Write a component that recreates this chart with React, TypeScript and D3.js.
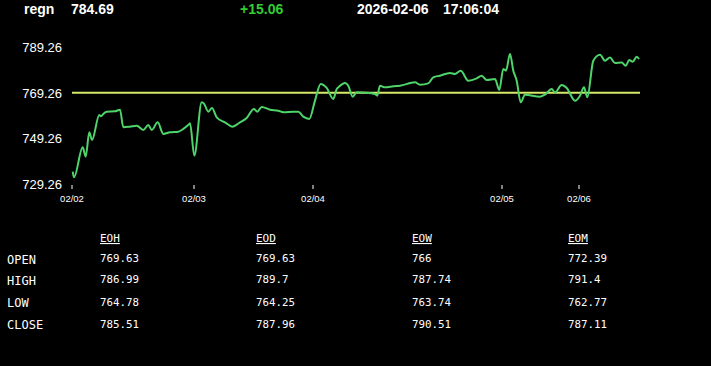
import React from "react";
import * as d3 from "d3";

const symbol = "regn";
const lastPrice = "784.69";
const change = "+15.06";
const dateStr = "2026-02-06";
const timeStr = "17:06:04";

const refLevel = 769.26;
const yTicks = [729.26, 749.26, 769.26, 789.26];
const xTickPos = [0, 122, 241, 430, 507];
const xTickLabels = ["02/02", "02/03", "02/04", "02/05", "02/06"];

const pointPos = [
  0.7, 2, 10.7, 13.7, 17.3, 20, 27.3, 29, 31.3, 34.7, 43, 48, 51.3, 58, 64.7, 71.3, 76.3, 79.7, 85.7, 91.3,
  98, 106.3, 111.3, 117.3, 118, 122.3, 129.7, 132, 136.3, 140, 144.7, 153, 160.3, 168, 174.7, 182, 185.3, 189.7, 198, 206.3,
  211.3, 221.3, 226.3, 231.3, 237.3, 243, 248.7, 254.7, 261.3, 264.7, 266.3, 273, 276.3, 280.7, 284.7, 294.7, 303, 305.3, 308, 313,
  321.3, 328, 343, 348, 356.3, 361.3, 368, 378, 383, 388.7, 396.3, 404.7, 409.7, 414.7, 423, 427.3, 431.3, 434, 438, 441.3,
  444.7, 448.7, 453, 468, 473, 479.7, 483, 489.7, 494.7, 503, 508, 512, 515.3, 521.3, 528, 533, 538, 543, 549.7, 553.7,
  557.3, 560.7, 564.7, 567,
];
const prices = [
  734.69, 732.19, 745.32, 741.26, 751.89, 748.56, 759.5, 758.89, 759.94, 760.95, 761.08, 761.82, 754.08, 754.38, 754.82, 752.94, 755.13, 752.94, 756.26, 751.19,
  751.89, 752.19, 753.38, 755.56, 755.82, 741.69, 765.02, 764.45, 760.95, 762.56, 758.45, 756.26, 754.38, 756.26, 758.19, 762.13, 760.95, 763.0, 761.82, 761.38,
  760.64, 760.95, 760.95, 758.76, 757.75, 765.76, 773.07, 771.32, 766.5, 770.88, 771.58, 773.5, 772.32, 767.51, 769.39, 769.26, 768.69, 767.95, 772.32, 771.58,
  772.02, 772.32, 773.77, 772.76, 773.33, 775.96, 776.7, 777.88, 777.44, 778.89, 774.51, 775.52, 776.7, 774.82, 775.26, 770.44, 779.63, 778.89, 786.2, 778.89,
  774.51, 765.02, 768.38, 767.51, 768.38, 770.88, 769.39, 772.63, 771.32, 765.76, 767.95, 771.58, 767.2, 783.26, 785.89, 783.26, 784.71, 782.26, 782.52, 781.08,
  783.57, 782.83, 785.01, 784.01,
];

const tableCols = ["EOH", "EOD", "EOW", "EOM"];
const tableRows = ["OPEN", "HIGH", "LOW", "CLOSE"];
const eohVals = ["769.63", "786.99", "764.78", "785.51"];
const eodVals = ["769.63", "789.7", "764.25", "787.96"];
const eowVals = ["766", "787.74", "763.74", "790.51"];
const eomVals = ["772.39", "791.4", "762.77", "787.11"];

export default function App() {
  const W = 711;
  const H = 366;
  const x = d3.scaleLinear().domain([0, 568]).range([72, 640]);
  const y = d3.scaleLinear().domain([729.26, 789.26]).range([184, 47]);
  const data = pointPos.map((p, i) => [p, prices[i]] as [number, number]);
  const line = d3
    .line<[number, number]>()
    .x((d) => x(d[0]))
    .y((d) => y(d[1]))
    .curve(d3.curveMonotoneX);
  const colVals = [eohVals, eodVals, eowVals, eomVals];
  const colX = [100, 256, 412, 568];
  const labelY = [264.3, 285, 307, 329];
  const valueY = [262.2, 283.2, 305.9, 327.9];
  const sans = "Arial, 'Liberation Sans', sans-serif";
  const mono = "'DejaVu Sans Mono', 'Liberation Mono', monospace";
  return (
    <svg
      width={W}
      height={H}
      style={{ position: "absolute", left: 0, top: 0, background: "#000", display: "block" }}
    >
      <rect x={0} y={0} width={W} height={H} fill="#000" />
      <g fontFamily={sans} fontWeight="bold" fontSize={14}>
        <text x={24} y={14} fill="#fff">{symbol}</text>
        <text x={71} y={14} fill="#fff">{lastPrice}</text>
        <text x={240} y={14} fill="#33cc33">{change}</text>
        <text x={357} y={14} fill="#fff">{dateStr}</text>
        <text x={443} y={14} fill="#fff">{timeStr}</text>
      </g>
      <g fontFamily={sans} fontSize={13} fill="#fff">
        {yTicks.map((t) => (
          <text key={t} x={62} y={y(t) + 5} textAnchor="end">
            {t.toFixed(2)}
          </text>
        ))}
      </g>
      <g>
        {xTickPos.map((p, i) => (
          <g key={i}>
            <line x1={x(p)} x2={x(p)} y1={185} y2={189} stroke="#fff" strokeWidth={1} />
            <text
              x={x(p)}
              y={202}
              textAnchor="middle"
              fontFamily={sans}
              fontSize={9.5}
              fill="#fff"
            >
              {xTickLabels[i]}
            </text>
          </g>
        ))}
      </g>
      <line x1={x(0)} x2={x(568)} y1={y(refLevel)} y2={y(refLevel)} stroke="#d6e96a" strokeWidth={2} />
      <path d={line(data) || ""} fill="none" stroke="#4ed46a" strokeWidth={2} strokeLinejoin="round" />
      <g fontFamily={mono} fill="#fff">
        {tableCols.map((c, i) => (
          <text key={c} x={colX[i]} y={242} fontSize={11} textDecoration="underline">
            {c}
          </text>
        ))}
        {tableRows.map((r, j) => (
          <text key={r} x={7} y={labelY[j]} fontSize={12}>
            {r}
          </text>
        ))}
        {colVals.map((vals, i) =>
          vals.map((v, j) => (
            <text key={`${i}-${j}`} x={colX[i]} y={valueY[j]} fontSize={10.8}>
              {v}
            </text>
          ))
        )}
      </g>
    </svg>
  );
}
